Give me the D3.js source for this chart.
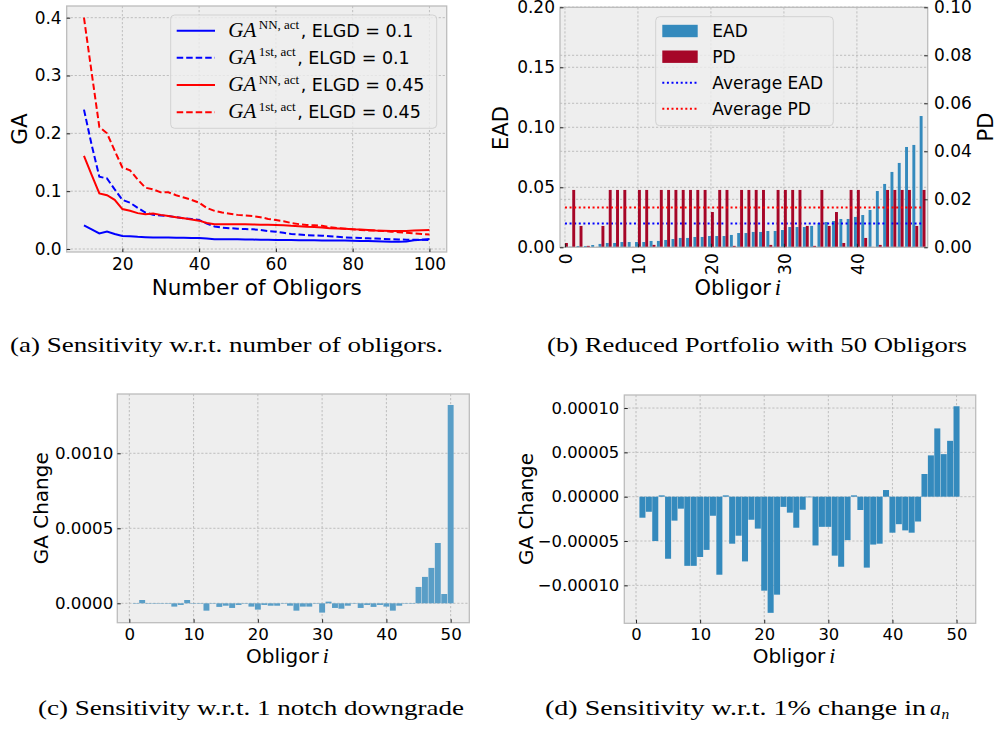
<!DOCTYPE html>
<html><head><meta charset="utf-8">
<script src="https://cdn.jsdelivr.net/npm/d3@7"></script>
<style>body{margin:0;background:#fff}</style>
</head><body>
<svg id="fig" width="997" height="729"></svg>
<script>
// ---------- (a) data ----------
const obligorCounts = [10,12,14,16,18,20,22,24,26,28,30,32,34,36,38,40,42,44,46,48,50,52,54,56,58,60,62,64,66,68,70,72,74,76,78,80,82,84,86,88,90,92,94,96,98,100];
const gaNN_elgd01 = [0.041,0.034,0.027,0.030,0.026,0.0224,0.022,0.021,0.0205,0.020,0.020,0.020,0.0195,0.0195,0.019,0.019,0.018,0.0167,0.0167,0.0167,0.0167,0.0165,0.0163,0.016,0.016,0.0156,0.0155,0.0155,0.0153,0.015,0.015,0.0148,0.0147,0.0146,0.0145,0.0144,0.014,0.0138,0.0135,0.013,0.0127,0.0127,0.013,0.015,0.016,0.0173];
const ga1st_elgd01 = [0.241,0.18,0.125,0.122,0.103,0.085,0.080,0.071,0.063,0.059,0.058,0.057,0.055,0.053,0.052,0.050,0.044,0.039,0.037,0.036,0.035,0.0345,0.034,0.033,0.031,0.030,0.028,0.026,0.025,0.024,0.0235,0.023,0.022,0.021,0.020,0.0196,0.019,0.0185,0.018,0.0175,0.0168,0.0165,0.016,0.016,0.0158,0.0156];
const gaNN_elgd045 = [0.161,0.128,0.096,0.093,0.085,0.069,0.066,0.062,0.060,0.0615,0.059,0.057,0.055,0.053,0.051,0.049,0.045,0.043,0.0428,0.0428,0.043,0.043,0.0425,0.042,0.0418,0.0415,0.041,0.040,0.0395,0.0386,0.038,0.037,0.036,0.0355,0.035,0.034,0.0335,0.033,0.032,0.0315,0.031,0.031,0.031,0.032,0.0325,0.033];
const ga1st_elgd045 = [0.40,0.305,0.211,0.200,0.170,0.141,0.136,0.120,0.106,0.103,0.098,0.098,0.093,0.089,0.085,0.080,0.071,0.066,0.063,0.061,0.059,0.058,0.057,0.055,0.052,0.050,0.048,0.045,0.043,0.0415,0.041,0.040,0.038,0.036,0.035,0.034,0.033,0.032,0.032,0.031,0.030,0.029,0.028,0.027,0.026,0.025];
const ticksA_x = [20,40,60,80,100];
const ticksA_y = [0.0,0.1,0.2,0.3,0.4];

// ---------- (b) data ----------
const obligorIndexB = [0,1,2,3,4,5,6,7,8,9,10,11,12,13,14,15,16,17,18,19,20,21,22,23,24,25,26,27,28,29,30,31,32,33,34,35,36,37,38,39,40,41,42,43,44,45,46,47,48,49];
const eadValues = [0.0002,0.0005,0.0011,0.0011,0.0019,0.0028,0.0036,0.0036,0.0044,0.0044,0.0044,0.0044,0.0053,0.0053,0.0061,0.0069,0.0078,0.0078,0.0086,0.0086,0.0094,0.0094,0.0094,0.0103,0.0119,0.0119,0.0128,0.0128,0.0136,0.0136,0.0144,0.0169,0.0169,0.0169,0.0178,0.0203,0.0211,0.0219,0.0236,0.0236,0.0253,0.0269,0.0311,0.0469,0.0528,0.0628,0.0703,0.0836,0.0853,0.1094];
const pdValues = [0.0018,0.0239,0.0089,0.0006,0,0.0089,0.0239,0.0239,0.0239,0,0.0239,0.0239,0.001,0.0239,0.0239,0.0239,0.0239,0.0239,0.0239,0.0239,0.0147,0.0239,0.0239,0.0006,0.0239,0.0239,0.0239,0.0239,0.001,0.0239,0.0239,0.0239,0.0239,0.0089,0.0006,0.0239,0.0089,0.0147,0.0018,0.0239,0.0239,0.0039,0,0.001,0.0239,0.0239,0.0239,0.0239,0.0089,0.0239];
const ticksB_x = [0,10,20,30,40];
const ticksB_ead = [0.00,0.05,0.10,0.15,0.20];
const ticksB_pd = [0.00,0.02,0.04,0.06,0.08,0.10];

// ---------- (c), (d) data ----------
const obligorIndexCD = [1,2,3,4,5,6,7,8,9,10,11,12,13,14,15,16,17,18,19,20,21,22,23,24,25,26,27,28,29,30,31,32,33,34,35,36,37,38,39,40,41,42,43,44,45,46,47,48,49,50];
const gaChangeNotch = [-0.3e-5,2.2e-5,-0.3e-5,-0.3e-5,-0.3e-5,-0.3e-5,-2.2e-5,-1.1e-5,2.2e-5,-0.3e-5,-0.3e-5,-4.9e-5,-0.3e-5,-2.4e-5,-1.6e-5,-3.1e-5,-1.1e-5,-0.3e-5,-2.2e-5,-4.2e-5,-1.1e-5,-1.6e-5,-1.6e-5,-0.3e-5,-1.6e-5,-4.9e-5,-2.2e-5,-2.2e-5,-0.3e-5,-6.2e-5,1.1e-5,-3.1e-5,-3.6e-5,-1.6e-5,-0.3e-5,-3.1e-5,-1.1e-5,-2.4e-5,-1.1e-5,-2.2e-5,-4.9e-5,-1.6e-5,-0.3e-5,-0.3e-5,10.9e-5,17.6e-5,23.6e-5,40.2e-5,6.2e-5,132.2e-5];
const gaChangeAn = [-2.37e-5,-1.7e-5,-5.0e-5,0.15e-5,-7.0e-5,-2.7e-5,-1.35e-5,-7.8e-5,-7.8e-5,-6.8e-5,-6.0e-5,-2.15e-5,-8.8e-5,0.15e-5,-5.3e-5,-4.4e-5,-7.3e-5,-2.6e-5,-3.6e-5,-10.6e-5,-13.1e-5,-11.05e-5,-1.15e-5,-1.8e-5,-3.5e-5,-1.47e-5,-0.05e-5,-5.5e-5,-3.4e-5,-3.4e-5,-6.65e-5,-7.9e-5,-4.9e-5,0.15e-5,-1.5e-5,-8.0e-5,-5.4e-5,-5.3e-5,0.75e-5,-4.06e-5,-3.1e-5,-3.8e-5,-4.06e-5,-2.8e-5,2.56e-5,4.66e-5,7.7e-5,4.8e-5,6.3e-5,10.2e-5];
const ticksCD_x = [0,10,20,30,40,50];
const ticksC_y = [0.0000,0.0005,0.0010];
const ticksD_y = [-0.00010,-0.00005,0.00000,0.00005,0.00010];

const captions = [
  "(a) Sensitivity w.r.t. number of obligors.",
  "(b) Reduced Portfolio with 50 Obligors",
  "(c) Sensitivity w.r.t. 1 notch downgrade",
  "(d) Sensitivity w.r.t. 1% change in "
];

// ---------- styling ----------
const FONT = "'DejaVu Sans', sans-serif";
const SERIF = "'Liberation Serif', 'DejaVu Serif', serif";
const BG = '#eeeeee', SPINE = '#bcbcbc', GRID = '#b2b2b2';
const C_BLUE = '#348ABD', C_RED = '#A60628', C_BLUE_LIGHT = '#599ec7';

const svg = d3.select('#fig');
svg.append('rect').attr('width',997).attr('height',729).attr('fill','#fff');

function frame(b){
  const g = svg.append('g');
  g.append('rect').attr('x',b.x0).attr('y',b.y0).attr('width',b.x1-b.x0).attr('height',b.y1-b.y0).attr('fill',BG);
  return g;
}
function gridX(g,x,vals,b){
  g.append('g').selectAll('line').data(vals).join('line')
   .attr('x1',d=>x(d)).attr('x2',d=>x(d)).attr('y1',b.y0).attr('y2',b.y1)
   .attr('stroke',GRID).attr('stroke-width',0.8).attr('stroke-dasharray','2.2,1.8');
}
function gridY(g,y,vals,b){
  g.append('g').selectAll('line').data(vals).join('line')
   .attr('y1',d=>y(d)).attr('y2',d=>y(d)).attr('x1',b.x0).attr('x2',b.x1)
   .attr('stroke',GRID).attr('stroke-width',0.8).attr('stroke-dasharray','2.2,1.8');
}
function spines(g,b){
  g.append('rect').attr('x',b.x0).attr('y',b.y0).attr('width',b.x1-b.x0).attr('height',b.y1-b.y0)
   .attr('fill','none').attr('stroke',SPINE).attr('stroke-width',1.3);
}
function styleAxis(ax,fs){
  ax.select('.domain').remove();
  ax.selectAll('line').attr('stroke','#222').attr('stroke-width',1);
  ax.selectAll('text').attr('font-family',FONT).attr('font-size',fs).attr('fill','#000');
}
function axLeft(g,y,vals,fmt,b,fs,pad){
  const ax = g.append('g').attr('transform',`translate(${b.x0},0)`)
    .call(d3.axisLeft(y).tickValues(vals).tickFormat(fmt).tickSize(-3.5).tickPadding(pad));
  styleAxis(ax,fs);
}
function axRight(g,y,vals,fmt,b,fs,pad){
  const ax = g.append('g').attr('transform',`translate(${b.x1},0)`)
    .call(d3.axisRight(y).tickValues(vals).tickFormat(fmt).tickSize(-3.5).tickPadding(pad));
  styleAxis(ax,fs);
}
function axBottom(g,x,vals,fmt,b,fs,pad){
  const ax = g.append('g').attr('transform',`translate(0,${b.y1})`)
    .call(d3.axisBottom(x).tickValues(vals).tickFormat(fmt).tickSize(-3.5).tickPadding(pad));
  styleAxis(ax,fs);
  return ax;
}
function label(g,txt,x,y,fs,rot,italicPart){
  const t = g.append('text').attr('font-family',FONT).attr('font-size',fs).attr('fill','#000')
    .attr('text-anchor','middle')
    .attr('transform',`translate(${x},${y})${rot?' rotate('+rot+')':''}`);
  t.append('tspan').text(txt);
  if(italicPart){
    t.append('tspan').attr('font-family',SERIF).attr('font-style','italic').attr('font-size',fs*1.08).attr('dx',4).text(italicPart);
  }
  return t;
}
function clip(id,b){
  svg.append('clipPath').attr('id',id).append('rect')
    .attr('x',b.x0).attr('y',b.y0).attr('width',b.x1-b.x0).attr('height',b.y1-b.y0);
}

// =================== (a) ===================
{
  const b = {x0:66.7,x1:446.7,y0:6,y1:252};
  const x = d3.scaleLinear().domain([5.5,104.5]).range([b.x0,b.x1]);
  const y = d3.scaleLinear().domain([-0.0052,0.4202]).range([b.y1,b.y0]);
  const g = frame(b);
  gridX(g,x,ticksA_x,b); gridY(g,y,ticksA_y,b);
  clip('clipA',b);
  const series = [
    {v:gaNN_elgd01, c:'#0000ff', dash:null, sup:'NN, act', tail:', ELGD = 0.1'},
    {v:ga1st_elgd01, c:'#0000ff', dash:'6.5,3', sup:'1st, act', tail:', ELGD = 0.1'},
    {v:gaNN_elgd045, c:'#ff0000', dash:null, sup:'NN, act', tail:', ELGD = 0.45'},
    {v:ga1st_elgd045, c:'#ff0000', dash:'6.5,3', sup:'1st, act', tail:', ELGD = 0.45'}
  ];
  const line = d3.line().x((d,i)=>x(obligorCounts[i])).y(d=>y(d));
  const lg = g.append('g').attr('clip-path','url(#clipA)');
  series.forEach(s=>{
    lg.append('path').datum(s.v).attr('d',line).attr('fill','none').attr('stroke',s.c)
      .attr('stroke-width',2).attr('stroke-dasharray',s.dash);
  });
  spines(g,b);
  axLeft(g,y,ticksA_y,d3.format('.1f'),b,17,5);
  axBottom(g,x,ticksA_x,d3.format('d'),b,17,6);
  label(g,'Number of Obligors',(b.x0+b.x1)/2,295,21.5);
  label(g,'GA',26.5,129,21.5,-90);
  // legend
  const leg = g.append('g');
  leg.append('rect').attr('x',170.7).attr('y',15).attr('width',266).attr('height',113.3).attr('rx',4)
    .attr('fill','#eeeeee').attr('fill-opacity',0.8).attr('stroke','#d2d2d2').attr('stroke-width',1);
  const bases = [36.7,63.7,91,118.2];
  series.forEach((s,i)=>{
    const yb = bases[i];
    leg.append('line').attr('x1',176.7).attr('x2',215).attr('y1',yb-6).attr('y2',yb-6)
      .attr('stroke',s.c).attr('stroke-width',2).attr('stroke-dasharray',s.dash);
    const t = leg.append('text').attr('x',228.3).attr('y',yb).attr('font-family',FONT).attr('font-size',17.5).attr('fill','#000');
    t.append('tspan').attr('font-family',SERIF).attr('font-style','italic').attr('font-size',21).text('GA');
    t.append('tspan').attr('font-family',SERIF).attr('font-size',13).attr('dx',2.5).attr('dy',-7.5).text(s.sup);
    t.append('tspan').attr('dy',7.5).attr('dx',1.5).text(s.tail);
  });
}

// =================== (b) ===================
{
  const b = {x0:560,x1:927.7,y0:7.3,y1:247.3};
  const x = d3.scaleLinear().domain([-0.68,49.7]).range([b.x0,b.x1]);
  const yE = d3.scaleLinear().domain([0,0.2]).range([b.y1,b.y0]);
  const yP = d3.scaleLinear().domain([0,0.1]).range([b.y1,b.y0]);
  const g = frame(b);
  gridX(g,x,ticksB_x,b); gridY(g,yE,ticksB_ead,b); gridY(g,yP,ticksB_pd,b);
  const bw = 0.4;
  const wpx = x(bw)-x(0);
  g.append('g').selectAll('rect').data(eadValues).join('rect')
    .attr('x',(d,i)=>x(obligorIndexB[i]-bw)).attr('width',wpx)
    .attr('y',d=>yE(d)).attr('height',d=>yE(0)-yE(d)).attr('fill',C_BLUE);
  const avgEAD = d3.mean(eadValues);
  g.append('line').attr('x1',x(obligorIndexB[0])).attr('x2',x(obligorIndexB[obligorIndexB.length-1]))
    .attr('y1',yE(avgEAD)).attr('y2',yE(avgEAD)).attr('stroke','#0000ff').attr('stroke-width',2).attr('stroke-dasharray','2,2.6');
  g.append('g').selectAll('rect').data(pdValues).join('rect')
    .attr('x',(d,i)=>x(obligorIndexB[i])).attr('width',wpx)
    .attr('y',d=>yP(d)).attr('height',d=>yP(0)-yP(d)).attr('fill',C_RED);
  const avgPD = d3.mean(pdValues);
  g.append('line').attr('x1',x(obligorIndexB[0])).attr('x2',x(obligorIndexB[obligorIndexB.length-1]))
    .attr('y1',yP(avgPD)).attr('y2',yP(avgPD)).attr('stroke','#ff0000').attr('stroke-width',2).attr('stroke-dasharray','2,2.6');
  spines(g,b);
  axLeft(g,yE,ticksB_ead,d3.format('.2f'),b,17,5);
  axRight(g,yP,ticksB_pd,d3.format('.2f'),b,17,6.3);
  const ax = axBottom(g,x,ticksB_x,d3.format('d'),b,17,5);
  ax.selectAll('text').attr('text-anchor','end').attr('dy',null).attr('y',null)
    .attr('transform','translate(6.2,6) rotate(-90)');
  label(g,'Obligor',(b.x0+b.x1)/2-6,295,21,null,'i');
  label(g,'EAD',508,128,21,-90);
  label(g,'PD',993,127,21,-90);
  // legend
  const leg = g.append('g');
  leg.append('rect').attr('x',655.7).attr('y',16.7).attr('width',177.6).attr('height',109).attr('rx',4)
    .attr('fill','#eeeeee').attr('fill-opacity',0.8).attr('stroke','#d2d2d2').attr('stroke-width',1);
  const items = [
    {t:'EAD',type:'bar',c:C_BLUE,yc:31},
    {t:'PD',type:'bar',c:C_RED,yc:56.7},
    {t:'Average EAD',type:'line',c:'#0000ff',yc:82.7},
    {t:'Average PD',type:'line',c:'#ff0000',yc:108.7}
  ];
  items.forEach(it=>{
    if(it.type==='bar'){
      leg.append('rect').attr('x',662.3).attr('y',it.yc-6.2).attr('width',35.4).attr('height',12.4).attr('fill',it.c);
    } else {
      leg.append('line').attr('x1',662.3).attr('x2',697.7).attr('y1',it.yc).attr('y2',it.yc)
        .attr('stroke',it.c).attr('stroke-width',2).attr('stroke-dasharray','2,2.6');
    }
    leg.append('text').attr('x',712.3).attr('y',it.yc+6.3).attr('font-family',FONT).attr('font-size',17).attr('fill','#000').text(it.t);
  });
}

// =================== (c) ===================
{
  const b = {x0:117.3,x1:469.3,y0:394,y1:622.7};
  const x = d3.scaleLinear().domain([-1.87,52.9]).range([b.x0,b.x1]);
  const y = d3.scaleLinear().domain([-0.0001293,0.0013953]).range([b.y1,b.y0]);
  const g = frame(b);
  gridX(g,x,ticksCD_x,b); gridY(g,y,ticksC_y,b);
  const bw = 0.92, wpx = x(bw)-x(0);
  g.append('g').selectAll('rect').data(gaChangeNotch).join('rect')
    .attr('x',(d,i)=>x(obligorIndexCD[i]-bw/2)).attr('width',wpx)
    .attr('y',d=>y(Math.max(0,d))).attr('height',d=>Math.abs(y(d)-y(0)))
    .attr('fill',C_BLUE_LIGHT);
  spines(g,b);
  axLeft(g,y,ticksC_y,d3.format('.4f'),b,16.7,4);
  axBottom(g,x,ticksCD_x,d3.format('d'),b,16.7,5.5);
  label(g,'Obligor',(b.x0+b.x1)/2-6,662.7,20,null,'i');
  label(g,'GA Change',48,508.3,20,-90);
}

// =================== (d) ===================
{
  const b = {x0:624.3,x1:975.7,y0:395,y1:623.3};
  const x = d3.scaleLinear().domain([-1.83,52.99]).range([b.x0,b.x1]);
  const y = d3.scaleLinear().domain([-0.0001428,0.0001147]).range([b.y1,b.y0]);
  const g = frame(b);
  gridX(g,x,ticksCD_x,b); gridY(g,y,ticksD_y,b);
  const bw = 0.94, wpx = x(bw)-x(0);
  g.append('g').selectAll('rect').data(gaChangeAn).join('rect')
    .attr('x',(d,i)=>x(obligorIndexCD[i]-bw/2)).attr('width',wpx)
    .attr('y',d=>y(Math.max(0,d))).attr('height',d=>Math.max(0.6,Math.abs(y(d)-y(0))))
    .attr('fill',C_BLUE);
  spines(g,b);
  axLeft(g,y,ticksD_y,d3.format('.5f'),b,16.4,5);
  axBottom(g,x,ticksCD_x,d3.format('d'),b,16.4,5);
  label(g,'Obligor',(b.x0+b.x1)/2-6,662.7,20,null,'i');
  label(g,'GA Change',533,509,20,-90);
}

// =================== captions ===================
{
  const capPos = [
    {x:10,y:351.7,w:433},
    {x:547,y:351.7,w:420},
    {x:38,y:715,w:426},
    {x:545,y:715,w:381}
  ];
  captions.forEach((c,i)=>{
    const p = capPos[i];
    svg.append('text').attr('x',p.x).attr('y',p.y).attr('font-family',SERIF).attr('font-size',22)
      .attr('fill','#000').attr('textLength',p.w).attr('lengthAdjust','spacingAndGlyphs').text(c);
  });
  // math a_n for caption (d)
  const t = svg.append('text').attr('x',930).attr('y',715).attr('font-family',SERIF).attr('font-style','italic').attr('font-size',22).attr('fill','#000');
  t.append('tspan').text('a');
  t.append('tspan').attr('font-size',15.5).attr('dy',4).attr('dx',0.5).text('n');
}
</script>
</body></html>
